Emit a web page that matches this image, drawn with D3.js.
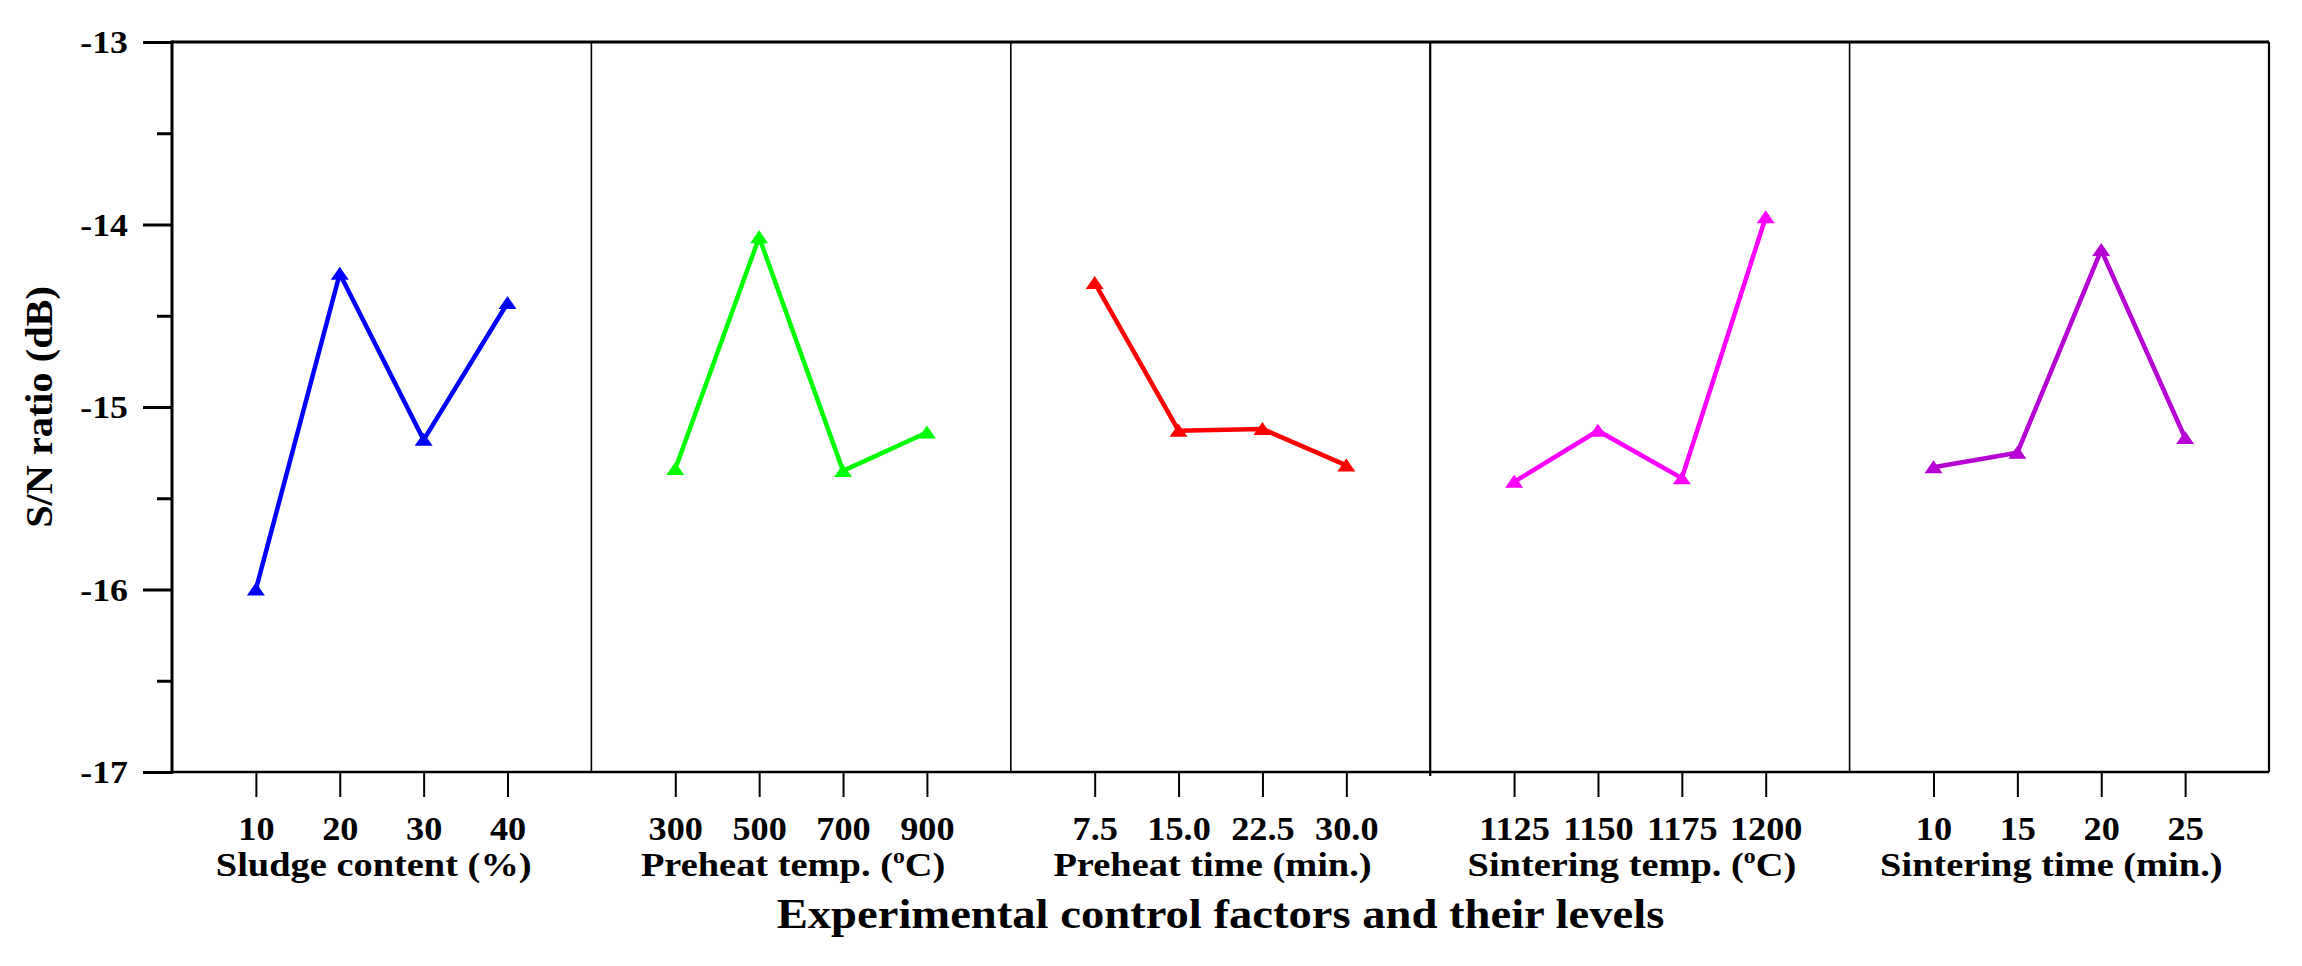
<!DOCTYPE html>
<html>
<head>
<meta charset="utf-8">
<script src="https://cdn.jsdelivr.net/npm/d3@7"></script>
<style>
  body { margin: 0; background: #fff; }
  text { font-family: "Liberation Serif", "Times New Roman", serif; font-weight: bold; fill: #000; }
</style>
</head>
<body>
<div id="graph"></div>
<script>
// factor names; odd entries are drawn as superscript
var factorLabels = [
  ["Sludge content (%)"],
  ["Preheat temp. (", "o", "C)"],
  ["Preheat time (min.)"],
  ["Sintering temp. (", "o", "C)"],
  ["Sintering time (min.)"]
];
var levelLabels = [
  ["10", "20", "30", "40"],
  ["300", "500", "700", "900"],
  ["7.5", "15.0", "22.5", "30.0"],
  ["1125", "1150", "1175", "1200"],
  ["10", "15", "20", "25"]
];
var sludgeSN = [-16.00, -14.27, -15.18, -14.43];
var preheatTempSN = [-15.34, -14.07, -15.35, -15.14];
var preheatTimeSN = [-14.32, -15.13, -15.12, -15.32];
var sinterTempSN = [-15.41, -15.13, -15.39, -13.96];
var sinterTimeSN = [-15.33, -15.25, -14.14, -15.17];
var colors = ["#0000ff", "#00ff00", "#ff0000", "#ff00ff", "#b700d4"];
var yMajor = [-17, -16, -15, -14, -13];
var yMinor = [-16.5, -15.5, -14.5, -13.5];

var series = [sludgeSN, preheatTempSN, preheatTimeSN, sinterTempSN, sinterTimeSN];

var W = 2302, H = 966;
var mLeft = 172, mRight = 2269, mTop = 42, mBottom = 772;

var svg = d3.select("#graph").append("svg")
    .attr("width", W)
    .attr("height", H);

var y = d3.scaleLinear().domain([-17, -13]).range([mBottom, mTop]);
var panel = d3.scaleBand().domain(d3.range(5)).range([mLeft, mRight]);
var level = d3.scaleLinear().domain([0, 5]).range([0, panel.bandwidth()]);

// y axis
var yAxis = svg.append("g")
    .attr("transform", "translate(" + mLeft + ",0)")
    .call(d3.axisLeft(y).tickValues(yMajor).tickSize(29).tickSizeOuter(0)
      .tickFormat(function (d) { return d; }));
yAxis.select(".domain").remove();
yAxis.selectAll(".tick line").attr("stroke-width", 3);
yAxis.selectAll(".tick text")
    .attr("x", 0).attr("dy", "0.34em")
    .attr("font-size", 32)
    .attr("font-family", null)
    .attr("transform", "translate(-44,0) scale(1.12,1)");

var yMin = svg.append("g")
    .attr("transform", "translate(" + mLeft + ",0)")
    .call(d3.axisLeft(y).tickValues(yMinor).tickSize(15).tickFormat(""));
yMin.select(".domain").remove();
yMin.selectAll(".tick line").attr("stroke-width", 3);

// frame
svg.append("line").attr("x1", mLeft).attr("x2", mLeft).attr("y1", mTop - 1.5).attr("y2", mBottom + 1.5)
    .attr("stroke", "#000").attr("stroke-width", 3);
svg.append("line").attr("x1", mLeft).attr("x2", mRight).attr("y1", mTop).attr("y2", mTop)
    .attr("stroke", "#000").attr("stroke-width", 3);
svg.append("line").attr("x1", mLeft).attr("x2", mRight).attr("y1", mBottom).attr("y2", mBottom)
    .attr("stroke", "#000").attr("stroke-width", 2.6);
svg.append("line").attr("x1", mRight).attr("x2", mRight).attr("y1", mTop).attr("y2", mBottom)
    .attr("stroke", "#000").attr("stroke-width", 2.2);

var tri = {
  draw: function (ctx) {
    ctx.moveTo(0, -7);
    ctx.lineTo(9, 6);
    ctx.lineTo(-9, 6);
    ctx.closePath();
  }
};

series.forEach(function (vals, i) {
  var x0 = panel(i);
  var g = svg.append("g").attr("transform", "translate(" + x0 + ",0)");

  if (i > 0) {
    g.append("line").attr("x1", 0).attr("x2", 0).attr("y1", mTop).attr("y2", i === 3 ? mBottom + 4 : mBottom)
      .attr("stroke", "#000").attr("stroke-width", i === 3 ? 2.2 : 1.6);
  }

  var ax = g.append("g")
      .attr("transform", "translate(0," + mBottom + ")")
      .call(d3.axisBottom(level).tickValues([1, 2, 3, 4]).tickSize(25).tickPadding(20)
        .tickFormat(function (d) { return levelLabels[i][d - 1]; }));
  ax.select(".domain").remove();
  ax.selectAll(".tick line").attr("stroke-width", 2);
  ax.selectAll(".tick text")
      .attr("font-size", 33)
      .attr("font-family", null)
      .attr("transform", "scale(1.1,1)");

  var pts = vals.map(function (v, k) { return [level(k + 1), y(v)]; });

  g.append("path")
      .attr("d", d3.line()(pts))
      .attr("fill", "none")
      .attr("stroke", colors[i])
      .attr("stroke-width", 4.5)
      .attr("stroke-linejoin", "miter");

  g.selectAll("path.mark")
      .data(pts)
      .enter()
      .append("path")
      .attr("class", "mark")
      .attr("d", d3.symbol().type(tri))
      .attr("fill", colors[i])
      .attr("transform", function (d) { return "translate(" + d[0] + "," + d[1] + ")"; });

  var lab = g.append("text")
      .attr("transform", "translate(" + (level(2.5) - 8) + ",876) scale(1.13,1)")
      .attr("text-anchor", "middle")
      .attr("font-size", 34);
  factorLabels[i].forEach(function (part, k) {
    var t = lab.append("tspan").text(part);
    if (k % 2 === 1) t.attr("font-size", 21).attr("dy", -13);
    else if (k > 0) t.attr("dy", 13);
  });
});

svg.append("text")
    .attr("transform", "translate(" + ((mLeft + mRight) / 2) + ",928) scale(1.11,1)")
    .attr("text-anchor", "middle")
    .attr("font-size", 42)
    .text("Experimental control factors and their levels");

svg.append("text")
    .attr("transform", "translate(52," + ((mTop + mBottom) / 2) + ") rotate(-90) scale(1.06,1)")
    .attr("text-anchor", "middle")
    .attr("font-size", 38)
    .text("S/N ratio (dB)");
</script>
</body>
</html>
